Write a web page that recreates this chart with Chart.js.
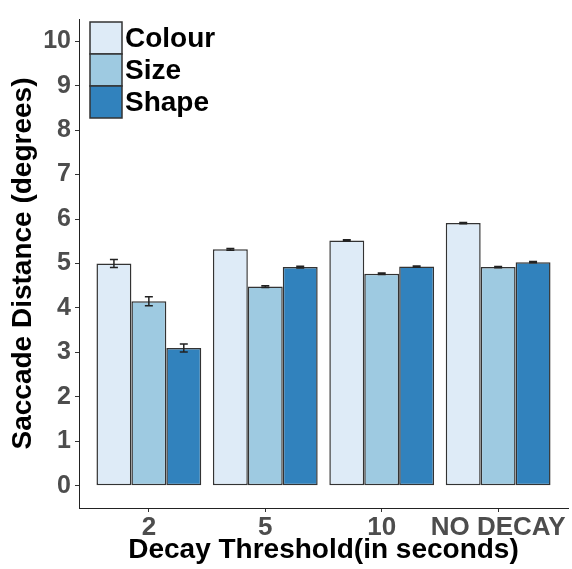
<!DOCTYPE html>
<html>
<head>
<meta charset="utf-8">
<script src="https://cdn.jsdelivr.net/npm/chart.js@4.4.1/dist/chart.umd.min.js"></script>
<style>
  html, body { margin: 0; padding: 0; background: #ffffff; }
  #wrap { width: 572px; height: 569px; position: relative; }
</style>
</head>
<body>
<div id="wrap"><canvas id="c"></canvas></div>
<script>
// ---- data ----
const categories = ['2', '5', '10', 'NO DECAY'];
const seriesNames = ['Colour', 'Size', 'Shape'];
const colourValues = [5.00, 5.32, 5.52, 5.91];
const sizeValues   = [4.15, 4.48, 4.77, 4.92];
const shapeValues  = [3.10, 4.92, 4.93, 5.03];
const colourErrors = [0.09, 0.02, 0.015, 0.015];
const sizeErrors   = [0.10, 0.02, 0.015, 0.015];
const shapeErrors  = [0.09, 0.02, 0.015, 0.015];
const yTicks = [0, 1, 2, 3, 4, 5, 6, 7, 8, 9, 10];

const fills = ['#deebf7', '#9ecae1', '#3182bd'];
const allValues = [colourValues, sizeValues, shapeValues];
const allErrors = [colourErrors, sizeErrors, shapeErrors];

const datasets = seriesNames.map((name, i) => ({
  label: name,
  data: allValues[i].map((v, j) => ({ x: j + 1, y: v })),
  errors: allErrors[i],
  backgroundColor: fills[i],
  borderColor: '#333333',
  borderWidth: 1.5,
  borderSkipped: false,
  categoryPercentage: 0.9,
  barPercentage: 1.0
}));

const errorBarPlugin = {
  id: 'errorBars',
  afterDatasetsDraw(chart) {
    const ctx = chart.ctx;
    const ys = chart.scales.y;
    ctx.save();
    ctx.strokeStyle = '#222222';
    ctx.lineWidth = 1.5;
    chart.data.datasets.forEach((ds, di) => {
      const meta = chart.getDatasetMeta(di);
      meta.data.forEach((bar, j) => {
        const v = ds.data[j].y, e = ds.errors[j];
        const top = ys.getPixelForValue(v + e);
        const bot = ys.getPixelForValue(v - e);
        const half = 4;
        ctx.beginPath();
        ctx.moveTo(bar.x, top); ctx.lineTo(bar.x, bot);
        ctx.moveTo(bar.x - half, top); ctx.lineTo(bar.x + half, top);
        ctx.moveTo(bar.x - half, bot); ctx.lineTo(bar.x + half, bot);
        ctx.stroke();
      });
    });
    ctx.restore();
  }
};

const legendPlugin = {
  id: 'insideLegend',
  afterDraw(chart) {
    const ctx = chart.ctx;
    const x0 = chart.chartArea.left + 11, y0 = 22, box = 32;
    ctx.save();
    chart.data.datasets.forEach((ds, i) => {
      const y = y0 + i * box;
      ctx.fillStyle = ds.backgroundColor;
      ctx.fillRect(x0, y, box, box);
      ctx.strokeStyle = '#333333';
      ctx.lineWidth = 1.5;
      ctx.strokeRect(x0, y, box, box);
      ctx.fillStyle = '#000000';
      ctx.font = 'bold 28px "Liberation Sans", Arial, sans-serif';
      ctx.textBaseline = 'middle';
      ctx.textAlign = 'left';
      ctx.fillText(ds.label, x0 + box + 3, y + box / 2 + 1);
    });
    ctx.restore();
  }
};

const fontFam = '"Liberation Sans", Arial, sans-serif';

new Chart(document.getElementById('c'), {
  type: 'bar',
  data: { datasets },
  plugins: [errorBarPlugin, legendPlugin],
  options: {
    responsive: true,
    maintainAspectRatio: false,
    animation: false,
    layout: { padding: { top: 8, right: 4, left: 0, bottom: 0 } },
    plugins: { legend: { display: false }, tooltip: { enabled: false } },
    scales: {
      x: {
        type: 'linear',
        offset: false,
        min: 0.4,
        max: 4.6,
        afterBuildTicks: (s) => { s.ticks = categories.map((c, i) => ({ value: i + 1 })); },
        afterFit: (s) => { s.height = 61; },
        ticks: {
          callback: (v) => categories[Math.round(v) - 1],
          color: '#4d4d4d',
          font: { family: fontFam, size: 26, weight: 'bold' },
          padding: 0,
          maxRotation: 0,
          autoSkip: false
        },
        grid: { offset: false, drawOnChartArea: false, drawTicks: true, tickLength: 4, tickColor: '#333333' },
        border: { display: true, color: '#222222', width: 1 },
        title: {
          display: true,
          text: 'Decay Threshold(in seconds)',
          color: '#000000',
          font: { family: fontFam, size: 28, weight: 'bold' },
          padding: { top: 0, bottom: 2 }
        }
      },
      y: {
        min: -0.5,
        max: 10.5,
        afterBuildTicks: (s) => { s.ticks = yTicks.map(v => ({ value: v })); },
        afterFit: (s) => { s.width = 79; },
        ticks: {
          color: '#4d4d4d',
          font: { family: fontFam, size: 25, weight: 'bold' },
          padding: 4
        },
        grid: { drawOnChartArea: false, drawTicks: true, tickLength: 4, tickColor: '#333333' },
        border: { display: true, color: '#222222', width: 1 },
        title: {
          display: true,
          text: 'Saccade Distance (degrees)',
          color: '#000000',
          font: { family: fontFam, size: 28, weight: 'bold' },
          padding: { top: 6, bottom: 0 }
        }
      }
    }
  }
});
</script>
</body>
</html>
